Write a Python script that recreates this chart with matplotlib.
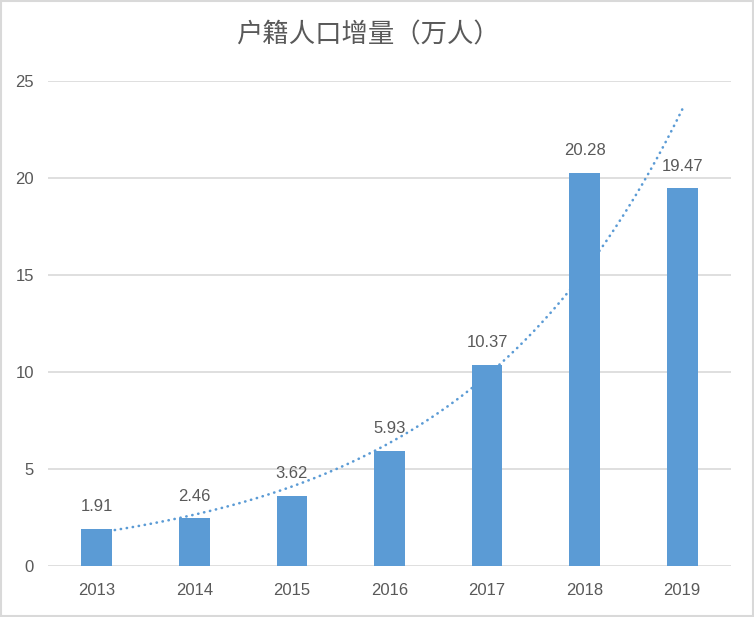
import numpy as np
import matplotlib
matplotlib.use("Agg")
import matplotlib.pyplot as plt
from matplotlib.patches import Rectangle

# data
years = ["2013", "2014", "2015", "2016", "2017", "2018", "2019"]
values = [1.91, 2.46, 3.62, 5.93, 10.37, 20.28, 19.47]
yticks = [0, 5, 10, 15, 20, 25]
title = "户籍人口增量（万人）"

bar_color = "#5B9BD5"
text_color = "#595959"
grid_color = "#D9D9D9"

fig = plt.figure(figsize=(7.54, 6.17), dpi=100)
ax = fig.add_axes([48 / 754, 1 - 566 / 617, 683 / 754, 485 / 617])

x = np.arange(len(years))
ax.bar(x, values, width=0.315, color=bar_color, zorder=3)

# exponential trendline (least squares on log values, like Excel)
b, a = np.polyfit(x, np.log(values), 1)
xs = np.linspace(0, len(years) - 1, 200)
ax.plot(xs, np.exp(a + b * xs), color=bar_color, lw=1.9,
        linestyle=(0, (0.1, 2.2)), dash_capstyle="round", zorder=2)

for xi, v in zip(x, values):
    ax.annotate(f"{v:.2f}", (xi, v), xytext=(0, 16), textcoords="offset points",
                ha="center", va="center", fontsize=12, color=text_color,
                family="Liberation Sans", zorder=4)

ax.set_xlim(-0.5, len(years) - 0.5)
ax.set_ylim(0, 25)
ax.set_yticks(yticks)
ax.set_xticks(x)
ax.set_xticklabels(years)
ax.yaxis.grid(True, color=grid_color, lw=1.2, zorder=0)
ax.set_axisbelow(True)
for s in ax.spines.values():
    s.set_visible(False)
ax.tick_params(length=0, labelsize=12, labelcolor=text_color)
ax.tick_params(axis="x", pad=12)
ax.tick_params(axis="y", pad=10)
for lbl in ax.get_xticklabels() + ax.get_yticklabels():
    lbl.set_family("Liberation Sans")

fig.text(0.488, 1 - 35 / 617, title, ha="center", va="center", fontsize=19,
         color=text_color, family=["Noto Sans CJK SC", "DejaVu Sans"],
         fontweight="light")

fig.patches.append(Rectangle((0.001, 0.001), 0.998, 0.998, transform=fig.transFigure,
                             fill=False, edgecolor=grid_color, lw=1.5))

fig.savefig("out.png", dpi=100)
